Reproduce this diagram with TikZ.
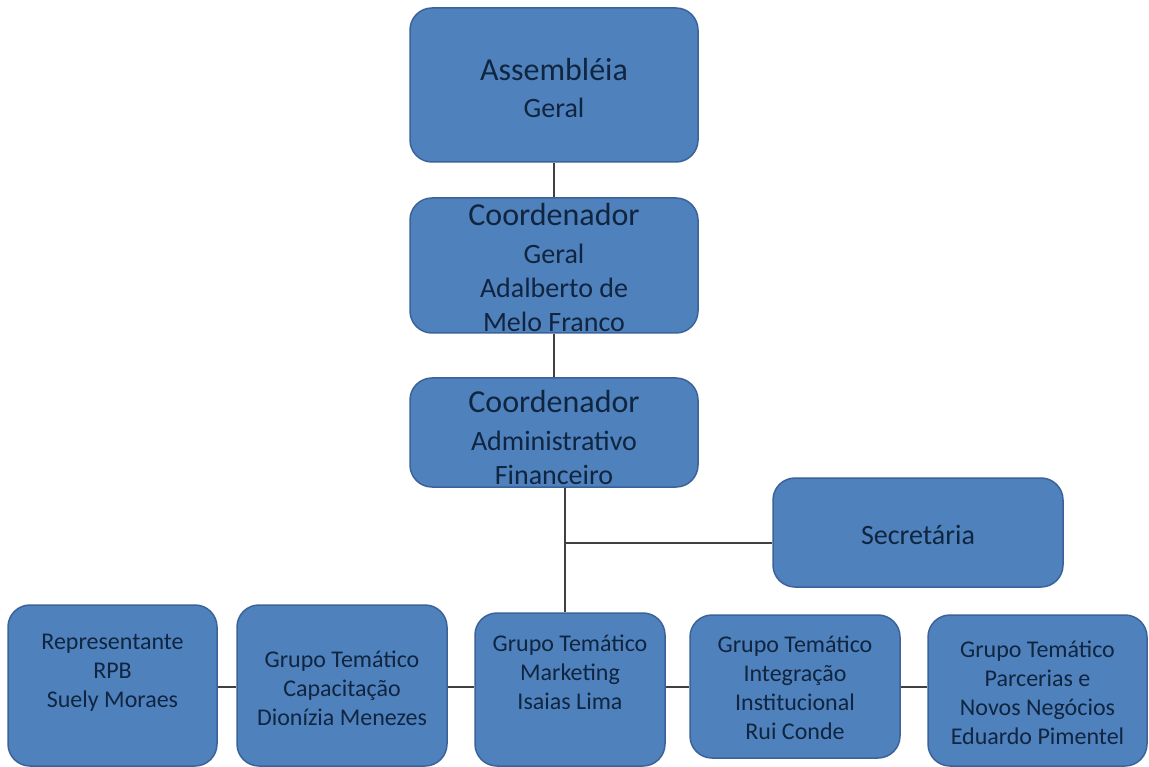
\documentclass[tikz,border=0pt]{standalone}
\usepackage{fontspec}
\setmainfont{Carlito}
\usepackage{xcolor}
\definecolor{orgfill}{HTML}{4F81BD}
\definecolor{orgline}{HTML}{3B639A}
\definecolor{orgtext}{HTML}{10253F}
\newcommand{\titlesize}{\fontsize{32}{38}\selectfont}
\newcommand{\namesize}{\fontsize{28}{34}\selectfont}
\newcommand{\groupsize}{\fontsize{24}{29}\selectfont}

\begin{document}
\begin{tikzpicture}[x=1pt,y=-1pt,
    orgbox/.style={draw=orgline, fill=orgfill, line width=1.5pt,
      rounded corners=22pt, inner sep=0pt},
    orgtxt/.style={draw=none, text=orgtext, align=center, inner sep=0pt,
      font=\groupsize},
    link/.style={draw=black!75, line width=1.4pt}]
  \useasboundingbox (0,0) rectangle (1149,767);

  % upper chain
  \node[orgbox, minimum width=288pt, minimum height=154pt] (ag) at (554,85) {};
  \node[orgtxt, font=\namesize] (agT) at ([yshift=-3pt]ag.center)
    {{\titlesize Assembléia}\\[3pt]Geral};

  \node[orgbox, minimum width=288pt, minimum height=135pt] (cg) at (554,265.5) {};
  \node[orgtxt, font=\namesize] (cgT) at ([yshift=-2pt]cg.center)
    {{\titlesize Coordenador}\\[4pt]Geral\\Adalberto de\\Melo Franco};

  \node[orgbox, minimum width=288pt, minimum height=109pt] (caf) at (554,432.5) {};
  \node[orgtxt, font=\namesize] (cafT) at ([yshift=-5pt]caf.center)
    {{\titlesize Coordenador}\\[4pt]Administrativo\\Financeiro};

  \node[orgbox, minimum width=290pt, minimum height=109pt] (sec) at (918,532.5) {};
  \node[orgtxt, font=\namesize] (secT) at ([yshift=-2pt]sec.center) {Secretária};

  % bottom row
  \node[orgbox, minimum width=209pt, minimum height=161pt] (rep) at (112.5,685.5) {};
  \node[orgtxt] (repT) at ([yshift=13pt]rep.center)
    {Representante\\RPB\\Suely Moraes};

  \node[orgbox, minimum width=210pt, minimum height=161pt] (cap) at (342,685.5) {};
  \node[orgtxt] (capT) at ([yshift=-3pt]cap.center)
    {Grupo Temático\\Capacitação\\Dionízia Menezes};

  \node[orgbox, minimum width=190pt, minimum height=153pt] (mkt) at (570,689.5) {};
  \node[orgtxt] (mktT) at ([yshift=17pt]mkt.center)
    {Grupo Temático\\Marketing\\Isaias Lima};

  \node[orgbox, minimum width=210pt, minimum height=143pt] (int) at (795,686.5) {};
  \node[orgtxt] (intT) at ([yshift=-1.5pt]int.center)
    {Grupo Temático\\Integração\\Institucional\\Rui Conde};

  \node[orgbox, minimum width=219pt, minimum height=151pt] (par) at (1037.5,690.5) {};
  \node[orgtxt] (parT) at ([yshift=-2.5pt]par.center)
    {Grupo Temático\\Parcerias e\\Novos Negócios\\Eduardo Pimentel};

  % connectors
  \coordinate (jn) at (565,543);
  \coordinate (row) at (0,687);
  \draw[link] (ag) -- (cg);
  \draw[link] (cg) -- (caf);
  \draw[link] (jn |- caf.south) -- (jn |- mkt.north);
  \draw[link] (jn) -- (jn -| sec.west);
  \draw[link] (row -| rep.east) -- (row -| cap.west);
  \draw[link] (row -| cap.east) -- (row -| mkt.west);
  \draw[link] (row -| mkt.east) -- (row -| int.west);
  \draw[link] (row -| int.east) -- (row -| par.west);
\end{tikzpicture}
\end{document}
